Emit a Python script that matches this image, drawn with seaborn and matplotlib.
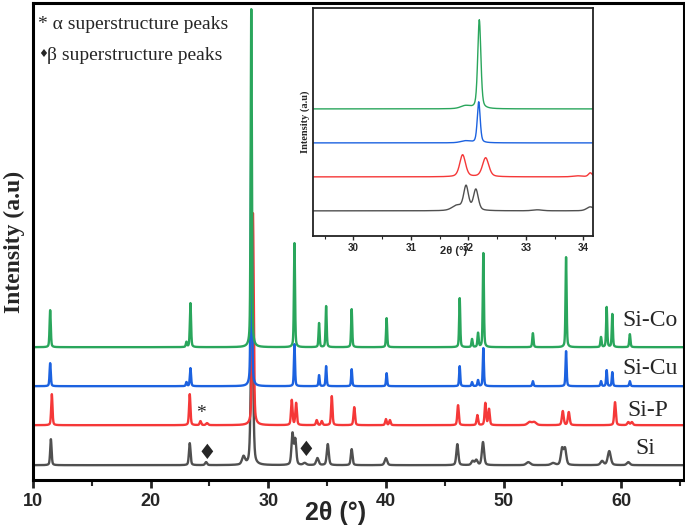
import numpy as np
import pandas as pd
import matplotlib
matplotlib.use("Agg")
import matplotlib.pyplot as plt
import seaborn as sns

# ---------------- data ----------------
series = ["Si", "Si-P", "Si-Cu", "Si-Co"]
colors = ["#505050", "#f53838", "#1c62e0", "#2aa65c"]
offsets = [15, 55, 94, 133]

# peak positions (2theta, deg) and heights (a.u.) for each sample
si_pos = [11.53, 23.33, 24.72, 27.9, 28.62, 32.06, 32.30, 33.1, 34.18, 35.06, 37.09, 40.0,
          46.07, 47.37, 47.68, 48.25, 52.1, 54.2, 54.97, 55.22, 58.37, 58.98, 60.6]
si_h = [26, 22, 3, 8, 165, 31, 25, 2, 7, 21, 16, 7,
        21, 4, 5, 23, 3, 2, 16, 16, 4, 14, 3]
si_w = [0.14, 0.16, 0.2, 0.3, 0.22, 0.2, 0.2, 0.3, 0.25, 0.2, 0.17, 0.25,
        0.2, 0.25, 0.25, 0.22, 0.4, 0.4, 0.25, 0.25, 0.3, 0.3, 0.3]

sip_pos = [11.61, 23.33, 24.24, 24.8, 28.70, 32.0, 32.37, 34.12, 34.55, 35.4, 37.31, 40.0,
           40.34, 46.13, 47.77, 48.45, 48.76, 52.2, 52.6, 55.03, 55.54, 59.47, 60.6, 60.9]
sip_h = [31, 31, 4, 2, 212, 25, 22, 5, 4, 29, 18, 6,
         5, 20, 10, 22, 16, 3, 3, 14, 13, 23, 3, 3]
sip_w = [0.13, 0.14, 0.15, 0.2, 0.16, 0.15, 0.15, 0.15, 0.15, 0.14, 0.15, 0.15,
         0.15, 0.15, 0.15, 0.15, 0.15, 0.4, 0.4, 0.18, 0.18, 0.16, 0.2, 0.2]

sicu_pos = [11.47, 23.05, 23.39, 28.56, 32.23, 34.32, 34.92, 37.09, 40.06, 46.27, 47.32,
            47.83, 48.28, 52.49, 55.31, 58.28, 58.76, 59.24, 60.73]
sicu_h = [23, 4, 18, 260, 42, 11, 20, 17, 13, 20, 4, 6, 38, 5, 35, 5, 16, 14, 5]
sicu_w = [0.12, 0.12, 0.12, 0.12, 0.11, 0.11, 0.11, 0.11, 0.11, 0.11, 0.12,
          0.12, 0.11, 0.12, 0.11, 0.12, 0.11, 0.11, 0.12]

sico_pos = [11.47, 23.05, 23.39, 28.56, 32.23, 34.32, 34.92, 37.09, 40.06, 46.27, 47.32,
            47.83, 48.28, 52.49, 55.31, 58.28, 58.76, 59.24, 60.73]
sico_h = [37, 5, 44, 338, 104, 24, 41, 38, 29, 49, 8, 14, 94, 14, 90, 10, 40, 33, 13]
sico_w = [0.12, 0.12, 0.12, 0.12, 0.11, 0.11, 0.11, 0.11, 0.11, 0.11, 0.12,
          0.12, 0.11, 0.12, 0.11, 0.12, 0.11, 0.11, 0.12]

# inset (zoom on the main reflection)
ins_series = ["Si", "Si-P", "Si-Cu", "Si-Co"]
ins_offsets = [25, 59, 93, 127]
ins_si_pos = [31.8, 31.96, 32.13, 33.2, 34.12]
ins_si_h = [5, 24, 21, 1, 4]
ins_si_w = [0.2, 0.1, 0.1, 0.2, 0.15]
ins_sip_pos = [31.90, 32.30, 33.9, 34.12]
ins_sip_h = [22, 19, 1, 4]
ins_sip_w = [0.12, 0.13, 0.2, 0.08]
ins_sicu_pos = [31.95, 32.18]
ins_sicu_h = [2, 41]
ins_sicu_w = [0.2, 0.06]
ins_sico_pos = [31.95, 32.19]
ins_sico_h = [3, 89]
ins_sico_w = [0.2, 0.065]

xticks_main = [10, 20, 30, 40, 50, 60]
xticks_inset = [30, 31, 32, 33, 34]


def profile(x, pos, h, w):
    y = np.zeros_like(x)
    for p, a, fw in zip(pos, h, w):
        g = np.exp(-4 * np.log(2) * ((x - p) / fw) ** 2)
        l = 1.0 / (1 + 4 * ((x - p) / fw) ** 2)
        y += a * (0.6 * g + 0.4 * l)
    return y


x = np.arange(10.0, 65.3, 0.01)
peaks = [(si_pos, si_h, si_w), (sip_pos, sip_h, sip_w),
         (sicu_pos, sicu_h, sicu_w), (sico_pos, sico_h, sico_w)]
frames = []
for name, off, pk in zip(series, offsets, peaks):
    frames.append(pd.DataFrame({"x": x, "y": off + profile(x, *pk), "s": name}))
df = pd.concat(frames, ignore_index=True)

xi = np.arange(29.3, 34.17, 0.005)
ipeaks = [(ins_si_pos, ins_si_h, ins_si_w), (ins_sip_pos, ins_sip_h, ins_sip_w),
          (ins_sicu_pos, ins_sicu_h, ins_sicu_w), (ins_sico_pos, ins_sico_h, ins_sico_w)]
iframes = []
for name, off, pk in zip(ins_series, ins_offsets, ipeaks):
    iframes.append(pd.DataFrame({"x": xi, "y": off + profile(xi, *pk), "s": name}))
dfi = pd.concat(iframes, ignore_index=True)

# ---------------- plotting ----------------
sns.set_theme(style="ticks")
plt.rcParams["font.family"] = ["Liberation Serif", "DejaVu Sans"]

fig = plt.figure(figsize=(6.85, 5.3), dpi=100)
ax = fig.add_axes([0.048, 0.094, 0.950, 0.900])
pal = dict(zip(series, colors))
sns.lineplot(data=df, x="x", y="y", hue="s", hue_order=series, palette=pal,
             estimator=None, sort=False, lw=1.7, legend=False, ax=ax)
ax.set_xlim(10, 65.3)
ax.set_ylim(0, 477)
ax.set_yticks([])
ax.set_xticks(xticks_main)
ax.set_xticks([15, 25, 35, 45, 55, 65], minor=True)
ax.tick_params(axis="x", which="major", direction="out", length=6, width=2,
               labelsize=13, pad=3)
ax.tick_params(axis="x", which="minor", direction="out", length=4, width=1.5)
for lab in ax.get_xticklabels():
    lab.set_fontfamily("Liberation Sans")
    lab.set_fontweight("bold")
for sp in ax.spines.values():
    sp.set_linewidth(2.2)
    sp.set_color("black")
ax.set_xlabel("2θ (°)", fontsize=18, fontweight="bold", family=["Liberation Sans", "DejaVu Sans"])
ax.xaxis.set_label_coords(0.465, -0.044)
ax.set_ylabel("Intensity (a.u)", fontsize=17, fontweight="bold", labelpad=6)

# sample labels
label_x = [61.2, 60.5, 60.08, 60.08]
label_y = [32, 70, 112, 160]
for name, lx, ly in zip(series, label_x, label_y):
    ax.text(lx, ly, name, fontsize=17, va="center", ha="left")

# superstructure markers
ax.text(24.24, 67, "*", fontsize=14, ha="center", va="center")
ax.text(24.75, 27, "♦", fontsize=15, ha="center", va="center", family="DejaVu Sans")
ax.text(33.2, 30, "♦", fontsize=15, ha="center", va="center", family="DejaVu Sans")

ax.text(0.008, 0.955, "* α superstructure peaks", transform=ax.transAxes,
        fontsize=14, va="center", ha="left")
ax.text(0.008, 0.893, "♦", transform=ax.transAxes, fontsize=8, va="center",
        ha="left", family="DejaVu Sans")
ax.text(0.022, 0.89, "β superstructure peaks", transform=ax.transAxes,
        fontsize=14, va="center", ha="left")

# inset
axi = fig.add_axes([0.457, 0.555, 0.409, 0.430])
sns.lineplot(data=dfi, x="x", y="y", hue="s", hue_order=ins_series, palette=pal,
             estimator=None, sort=False, lw=1.0, legend=False, ax=axi)
axi.set_xlim(29.3, 34.17)
axi.set_ylim(0, 228)
axi.set_yticks([])
axi.set_xticks(xticks_inset)
axi.set_xticks([29.5, 30.5, 31.5, 32.5, 33.5], minor=True)
axi.tick_params(axis="x", which="major", direction="out", length=3, width=1,
                labelsize=7, pad=2)
axi.tick_params(axis="x", which="minor", direction="out", length=2, width=0.8)
for lab in axi.get_xticklabels():
    lab.set_fontfamily("Liberation Sans")
    lab.set_fontweight("bold")
for sp in axi.spines.values():
    sp.set_linewidth(1.3)
    sp.set_color("#222222")
axi.set_xlabel("2θ (°)", fontsize=8, fontweight="bold", family=["Liberation Sans", "DejaVu Sans"],
               labelpad=-5)
axi.set_ylabel("Intensity (a.u)", fontsize=7.5, fontweight="bold", labelpad=2)

fig.savefig("out.png", dpi=100)
